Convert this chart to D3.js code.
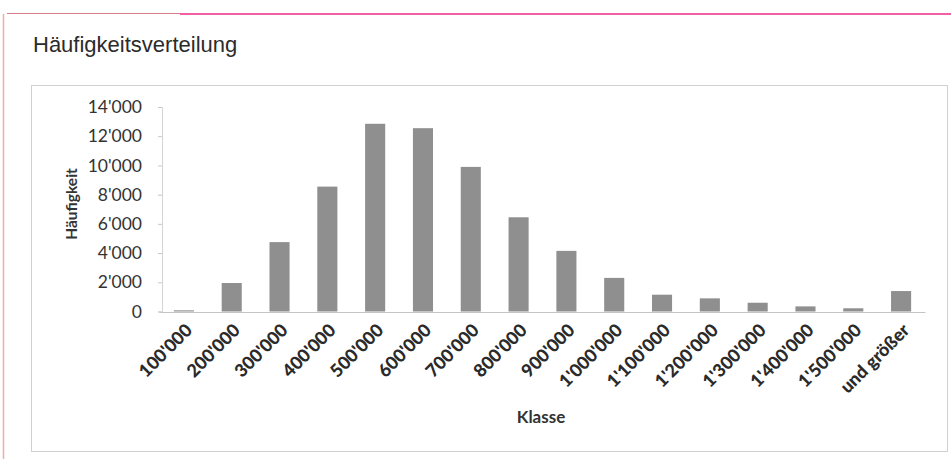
<!DOCTYPE html>
<html><head><meta charset="utf-8">
<script src="https://cdn.jsdelivr.net/npm/d3@7"></script>
<style>body{margin:0;background:#fff}svg{display:block}</style>
</head><body>
<script>
const categories = ["100'000","200'000","300'000","400'000","500'000","600'000","700'000","800'000","900'000","1'000'000","1'100'000","1'200'000","1'300'000","1'400'000","1'500'000","und größer"];
const values = [80,1950,4750,8550,12850,12550,9900,6450,4150,2300,1150,900,600,350,220,1400];
const yTicks = [0,2000,4000,6000,8000,10000,12000,14000];
const title = "Häufigkeitsverteilung";
const xTitle = "Klasse";
const yTitle = "Häufigkeit";

const W = 951, H = 459;
const svg = d3.select("body").append("svg").attr("width", W).attr("height", H);

// frames
svg.append("line").attr("x1",3.5).attr("x2",3.5).attr("y1",14).attr("y2",459).attr("stroke","#eab0a8").attr("stroke-width",1.5);
svg.append("line").attr("x1",7).attr("x2",180).attr("y1",13.5).attr("y2",13.5).attr("stroke","#d87a88").attr("stroke-width",1);
svg.append("line").attr("x1",180).attr("x2",951).attr("y1",14).attr("y2",14).attr("stroke","#ee2a86").attr("stroke-width",1.5);
svg.append("rect").attr("x",31.5).attr("y",85.5).attr("width",916).attr("height",366).attr("fill","none").attr("stroke","#d0d0d0").attr("stroke-width",1);

svg.append("text").attr("x",33).attr("y",52).text(title)
  .attr("font-family","Liberation Sans, Arial, sans-serif").attr("font-size",22).attr("fill","#2b2b2b");

const locale = d3.formatLocale({decimal:".", thousands:"'", grouping:[3], currency:["",""]});
const fmt = locale.format(",");

const x = d3.scaleBand().domain(categories).range([160, 925]).paddingInner(0.58).paddingOuter(0.29);
const y = d3.scaleLinear().domain([0, 14000]).range([311.5, 107]);

// y axis
const yAxis = svg.append("g").attr("transform","translate(162,0)")
  .call(d3.axisLeft(y).tickValues(yTicks).tickFormat(fmt).tickSize(4).tickPadding(16));
yAxis.select(".domain").attr("stroke","#d4d4d4");
yAxis.selectAll(".tick line").attr("stroke","#c8c8c8");
yAxis.selectAll(".tick text").attr("font-family","Lato, sans-serif").attr("font-size",17.5).attr("fill","#333");

// bars
svg.append("g").selectAll("rect").data(values).join("rect")
  .attr("x",(d,i)=>x(categories[i]))
  .attr("width",x.bandwidth())
  .attr("y",d=>y(d))
  .attr("height",d=>y(0)-y(d))
  .attr("fill","#8f8f8f");

// x axis
const xAxis = svg.append("g").attr("transform","translate(0,312)")
  .call(d3.axisBottom(x).tickSize(0).tickFormat(""));
xAxis.select(".domain").attr("stroke","#c4c4c4");

svg.append("g").selectAll("text").data(categories).join("text")
  .attr("transform",d=>`translate(${x(d)+x.bandwidth()/2+5},${327}) rotate(-45)`)
  .attr("text-anchor","end").attr("dy","0.35em")
  .attr("font-family","Lato, sans-serif").attr("font-weight","900").attr("font-size",18).attr("fill","#2a2a2a")
  .text(d=>d);

svg.append("text").attr("x",541).attr("y",423).attr("text-anchor","middle").text(xTitle)
  .attr("font-family","Lato, sans-serif").attr("font-weight","bold").attr("font-size",17).attr("fill","#333");
svg.append("text").attr("transform","translate(77,204) rotate(-90)").attr("text-anchor","middle").text(yTitle)
  .attr("font-family","Lato, sans-serif").attr("font-weight","bold").attr("font-size",15.5).attr("fill","#333");
</script>
</body></html>
